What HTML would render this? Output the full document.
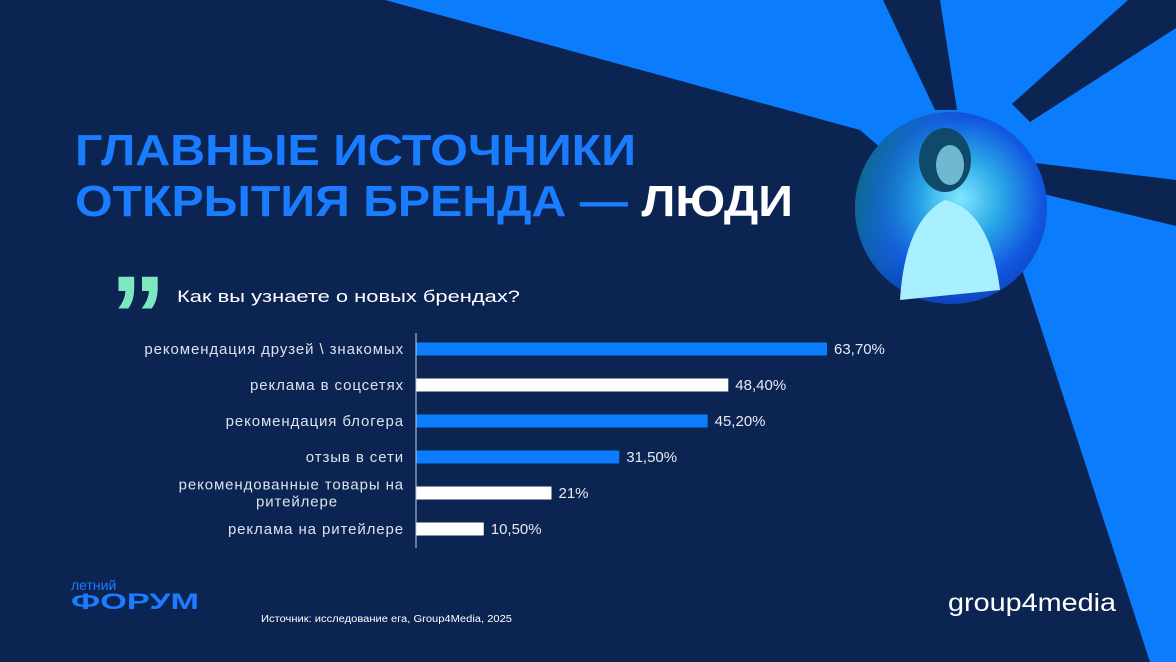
<!DOCTYPE html>
<html><head><meta charset="utf-8"><style>
html,body{margin:0;padding:0;background:#0c2452;}
svg{display:block;}
text{font-family:"Liberation Sans",sans-serif;}
</style></head><body>
<svg width="1176" height="662" viewBox="0 0 1176 662">
<defs>
<radialGradient id="ph" cx="0.55" cy="0.45" r="0.6">
<stop offset="0" stop-color="#7fe8ff"/><stop offset="0.35" stop-color="#2aa8e8"/><stop offset="0.7" stop-color="#1257e0"/><stop offset="1" stop-color="#0a3fb0"/>
</radialGradient>
<linearGradient id="ph2" x1="0" y1="0" x2="1" y2="0.3">
<stop offset="0" stop-color="#0b6a6a"/><stop offset="0.5" stop-color="#1a8fe0" stop-opacity="0"/><stop offset="1" stop-color="#1040d0" stop-opacity="0"/>
</linearGradient>
</defs>
<rect width="1176" height="662" fill="#0a7cfc"/>
<polygon points="0,0 385,0 860,130 950,208 1010,233 1150,662 0,662" fill="#0c2452"/>
<polygon points="883,0 940,0 957,110 935,110" fill="#0c2452"/>
<polygon points="1128,0 1176,0 1176,28 1030,122 1012,104" fill="#0c2452"/>
<polygon points="1035,163 1176,180 1176,226 1035,192" fill="#0c2452"/>
<g>
<circle cx="951" cy="208" r="96" fill="url(#ph)"/>
<circle cx="951" cy="208" r="96" fill="url(#ph2)"/>
<ellipse cx="945" cy="160" rx="26" ry="32" fill="#0f4a6a"/>
<ellipse cx="950" cy="165" rx="14" ry="20" fill="#6fb8d0"/>
<path d="M900,300 Q905,220 945,200 Q990,210 1000,290 Z" fill="#a8f0ff"/>
</g>
<text x="75" y="165" font-size="44" font-weight="bold" fill="#1a7cff" textLength="561" lengthAdjust="spacingAndGlyphs">ГЛАВНЫЕ ИСТОЧНИКИ</text>
<text x="75" y="216" font-size="44" font-weight="bold" textLength="718" lengthAdjust="spacingAndGlyphs"><tspan fill="#1a7cff">ОТКРЫТИЯ БРЕНДА — </tspan><tspan fill="#ffffff">ЛЮДИ</tspan></text>
<text x="110" y="354" font-size="112" font-weight="bold" fill="#7de8c0" font-family="Liberation Serif">”</text>
<text x="177" y="302" font-size="17" fill="#ffffff" textLength="343" lengthAdjust="spacingAndGlyphs">Как вы узнаете  о новых брендах?</text>
<g id="chart"></g>
<text x="71" y="590" font-size="14" fill="#1a7cff">летний</text>
<text x="71" y="609" font-size="22" font-weight="bold" fill="#1a7cff" textLength="128" lengthAdjust="spacingAndGlyphs">ФОРУМ</text>
<text x="261" y="622" font-size="10" fill="#ffffff" textLength="251" lengthAdjust="spacingAndGlyphs">Источник: исследование ега, Group4Media, 2025</text>
<text x="948" y="611" font-size="25" fill="#ffffff" textLength="168" lengthAdjust="spacingAndGlyphs">group4media</text>
</svg>
<script>
const categories=[["рекомендация друзей \\ знакомых"],["реклама в соцсетях"],["рекомендация блогера"],["отзыв в сети"],["рекомендованные товары на","ритейлере"],["реклама на ритейлере"]];
const values=[63.7,48.4,45.2,31.5,21,10.5];
const valueLabels=["63,70%","48,40%","45,20%","31,50%","21%","10,50%"];
const colors=["#0a7cfc","#ffffff","#0a7cfc","#0a7cfc","#ffffff","#ffffff"];
const NS="http://www.w3.org/2000/svg";
const g=document.getElementById('chart');
const x0=416, scale=411/63.7;
const xPos=v=>x0+v*scale;
const yPos=i=>349+i*36;
function mk(t,a){const e=document.createElementNS(NS,t);for(const k in a)e.setAttribute(k,a[k]);g.appendChild(e);return e;}
values.forEach((v,i)=>{
 const r=mk('rect',{x:x0,y:yPos(i)-6.5,width:xPos(v)-x0,height:13,fill:colors[i]});
 
 
 const t=mk('text',{x:xPos(v)+7,y:yPos(i)+5,'font-size':15,fill:'#e6eaf2'});
 t.textContent=valueLabels[i];
 
 
 const lines=categories[i];
 lines.forEach((ln,j)=>{
  const second=lines.length>1&&j==1;
  const c=mk('text',{x:second?297:404,y:yPos(i)+5+(j-(lines.length-1)/2)*17,'font-size':15,'letter-spacing':0.9,fill:'#dde2ec','text-anchor':second?'middle':'end'});
  c.textContent=ln;
  
  
 });
});
const ax=mk('line',{x1:x0,y1:333,x2:x0,y2:548,stroke:'#c8d0e0','stroke-width':1});


</script>
</body></html>
